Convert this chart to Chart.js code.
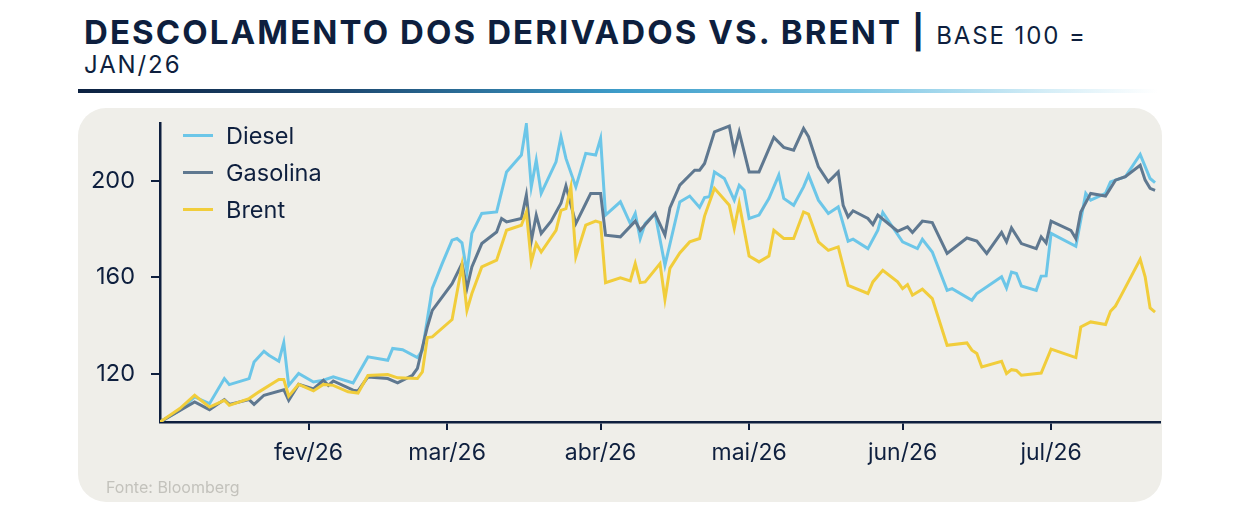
<!DOCTYPE html>
<html lang="pt-BR">
<head>
<meta charset="utf-8">
<script src="https://cdn.jsdelivr.net/npm/chart.js@4.4.1/dist/chart.umd.min.js"></script>
<style>
  body { margin: 0; background: #fff; width: 1240px; height: 507px; position: relative; overflow: hidden; font-family: Inter, "Noto Sans", sans-serif; color: #0e1f3e; }
  #titulo { position: absolute; left: 84px; top: 12px; white-space: nowrap; font-size: 33px; line-height: 40px; font-weight: 700; letter-spacing: 2.1px; }
  #titulo .sub { font-weight: 400; font-size: 24px; letter-spacing: 1.9px; }
  #titulo2 { position: absolute; left: 84px; top: 51px; font-size: 24px; line-height: 28px; font-weight: 400; letter-spacing: 1.9px; }
  #faixa { position: absolute; left: 78px; top: 89px; width: 1080px; height: 4px;
    background: linear-gradient(90deg, #0c2141 0%, #1d4a72 25%, #3d9cc9 50%, #7cc6e4 72%, #d6eef7 90%, rgba(255,255,255,0) 100%); }
  #painel { position: absolute; left: 78px; top: 108px; width: 1084px; height: 394px; background: #efeee9; border-radius: 28px; }
  #painel canvas { position: absolute; left: 0; top: 0; }
  #legenda { position: absolute; left: 105px; top: 9px; }
  #legenda .item { display: flex; align-items: center; height: 37px; font-size: 23.5px; color: #0e1f3e; }
  #legenda .linha { width: 30px; height: 3px; margin-right: 13px; }
  #fonte { position: absolute; left: 28px; top: 369px; font-size: 16px; color: #c3c2bc; }
</style>
</head>
<body>
<div id="titulo">DESCOLAMENTO DOS DERIVADOS VS. BRENT | <span class="sub">BASE 100 =</span></div>
<div id="titulo2">JAN/26</div>
<div id="faixa"></div>
<div id="painel">
  <canvas id="grafico" width="1084" height="394"></canvas>
  <div id="legenda"></div>
  <div id="fonte">Fonte: Bloomberg</div>
</div>
<script>
// eixo x em dias desde 1/jan/26
const mesesDia = [31, 59, 90, 120, 151, 181];
const mesesLabel = ["fev/26", "mar/26", "abr/26", "mai/26", "jun/26", "jul/26"];
const yTicks = [120, 160, 200];

const diasDiesel = [1,5,8,11,14,15,19,20,22,23,25,26,27,29,32,34,36,40,43,47,48,50,53,54,56,58,60,61,62,63,64,66,69,71,74,75,76,77,78,81,82,83,85,87,89,90,91,94,96,97,98,99,101,103,106,108,110,111,112,113,115,117,118,119,120,122,124,126,127,129,131,132,134,136,138,140,141,144,146,147,151,154,155,157,160,161,165,166,171,172,173,174,175,178,179,180,181,186,188,189,192,193,196,199,201,202];
const diesel = [100,104.9,110.4,107.6,118.0,115.5,118.0,124.9,129.3,127.7,125.2,132.9,115.2,120.1,116.6,117.3,118.7,116.2,127.0,125.6,130.5,130.0,126.7,129.7,155.4,165.7,175.4,176.1,174.3,162.2,178.2,186.5,187.1,203.7,210.7,223.4,197.5,208.6,194.8,207.9,218.3,209.3,197.5,211.4,210.7,217.6,185.8,191.3,182.3,186.5,176.1,182.3,186.5,165.0,191.3,193.7,189.0,193.1,193.4,203.7,201.0,192.0,198.2,196.1,184.4,185.8,192.7,202.4,192.7,189.9,197.5,202.4,192.0,186.5,189.2,175.0,175.8,171.9,179.5,186.9,174.7,171.9,175.8,170.5,154.6,155.3,150.5,153.3,160.2,155.6,162.2,161.6,156.4,154.6,160.5,160.6,178.2,172.9,194.8,192.0,194.8,199.6,201.7,211.0,201.0,199.3];

const diasGasolina = [1,8,11,14,15,19,20,22,26,27,29,32,34,35,36,40,41,43,47,49,52,53,55,56,60,62,63,64,66,69,70,71,74,75,76,77,78,80,82,83,85,87,88,90,91,94,97,98,101,103,104,106,109,110,111,113,116,117,118,120,122,125,127,129,131,132,134,136,138,139,140,141,144,145,146,150,152,153,155,157,160,164,166,168,171,172,173,175,178,179,180,181,185,186,187,189,192,194,196,199,200,201,202];
const gasolina = [100,108.3,105.1,109.3,107.3,109.3,107.3,111.1,113.4,109.0,115.6,113.7,117.3,115.2,117.0,113.2,112.9,118.7,118.0,116.2,119.4,122.2,139.4,146.3,157.4,165.7,155.4,164.3,174.0,178.8,184.4,183.0,184.4,194.1,175.0,185.8,178.2,183.3,190.7,197.9,182.3,190.6,194.8,194.8,177.5,176.8,183.3,179.5,186.5,177.5,188.8,198.2,204.4,204.4,207.2,220.3,222.7,212.0,220.3,203.7,203.7,218.0,213.9,212.7,221.7,218.3,205.8,199.6,203.7,189.9,185.1,187.6,184.4,181.9,185.8,179.1,180.9,178.6,183.3,182.7,169.9,176.3,175.0,169.9,178.6,174.7,180.5,174.0,171.9,176.8,174.3,183.3,179.5,176.1,187.1,194.8,193.7,200.3,201.7,206.5,200.3,196.9,196.1];

const diasBrent = [1,5,8,11,14,15,19,21,25,26,27,29,32,34,36,39,41,43,47,49,53,54,55,56,60,62,63,64,66,69,71,74,75,76,77,78,81,82,83,84,85,87,89,90,91,94,96,97,98,99,102,103,104,106,108,110,111,113,116,117,118,120,122,124,125,127,129,131,132,134,136,138,140,144,145,147,150,151,152,153,155,157,160,164,165,166,167,171,172,173,174,175,179,181,186,187,189,192,193,194,195,199,200,201,202];
const brent = [100,105.6,111.1,106.2,109.0,106.9,109.7,112.5,117.6,117.6,110.7,115.6,112.9,115.6,115.2,112.5,112.0,119.3,119.7,118.3,118.0,120.8,135.0,135.3,142.5,165.0,146.3,153.3,164.3,167.1,179.5,181.6,187.1,166.4,174.0,170.5,179.5,187.8,188.5,197.5,168.5,181.6,183.3,182.7,157.8,159.8,158.5,165.7,157.8,158.1,165.7,150.9,163.7,170.1,174.7,176.1,185.4,196.9,189.9,180.3,190.6,168.8,166.4,168.8,179.5,176.1,176.1,187.1,186.2,174.7,171.2,172.6,156.7,153.3,158.1,162.9,158.1,155.3,157.0,152.6,155.1,151.2,131.8,132.8,129.8,128.4,122.8,125.2,120.1,121.7,121.4,119.4,120.3,130.2,126.7,139.4,141.5,140.4,145.9,148.1,151.9,167.5,160.2,147.3,145.6];

const navy = "#0e1f3e";
const fonte = "Inter, 'Noto Sans', sans-serif";

function pontos(dias, vals) {
  return dias.map((d, i) => ({ x: d, y: vals[i] }));
}

const series = [
  { label: "Diesel", dias: diasDiesel, vals: diesel, cor: "#6cc6e8", ordem: 3 },
  { label: "Gasolina", dias: diasGasolina, vals: gasolina, cor: "#5f7890", ordem: 2 },
  { label: "Brent", dias: diasBrent, vals: brent, cor: "#f1cd3b", ordem: 1 },
];

const chart = new Chart(document.getElementById("grafico"), {
  type: "line",
  data: {
    datasets: series.map(s => ({
      label: s.label,
      data: pontos(s.dias, s.vals),
      borderColor: s.cor,
      backgroundColor: s.cor,
      borderWidth: 3,
      pointRadius: 0,
      tension: 0,
      order: s.ordem,
    })),
  },
  options: {
    responsive: false,
    animation: false,
    layout: { padding: { left: 0, right: 2, top: 15, bottom: 0 } },
    plugins: { legend: { display: false }, tooltip: { enabled: false } },
    scales: {
      x: {
        type: "linear",
        min: 1,
        max: 203,
        afterBuildTicks: axis => { axis.ticks = mesesDia.map(v => ({ value: v })); },
        afterFit: axis => { axis.height = 80; axis.paddingLeft = 0; axis.paddingRight = 0; },
        border: { display: true, color: navy, width: 2.5 },
        grid: { display: true, drawOnChartArea: false, drawTicks: true, tickLength: 8, color: navy, lineWidth: 2 },
        ticks: {
          autoSkip: false,
          maxRotation: 0,
          padding: 9,
          color: navy,
          font: { family: fonte, size: 23 },
          callback: v => mesesLabel[mesesDia.indexOf(v)],
        },
      },
      y: {
        min: 100,
        max: 224,
        afterBuildTicks: axis => { axis.ticks = yTicks.map(v => ({ value: v })); },
        // sem folga extra acima/abaixo: o topo do eixo fica no padding do layout
        afterFit: axis => { axis.width = 82; axis.paddingTop = 0; axis.paddingBottom = 0; },
        border: { display: true, color: navy, width: 2.5 },
        grid: { display: true, drawOnChartArea: false, drawTicks: true, tickLength: 9, color: navy, lineWidth: 2 },
        ticks: { padding: 16, color: navy, font: { family: fonte, size: 23.5 } },
      },
    },
  },
});

// legenda em HTML a partir dos datasets
const leg = document.getElementById("legenda");
chart.data.datasets.forEach(ds => {
  const item = document.createElement("div");
  item.className = "item";
  item.innerHTML = `<span class="linha" style="background:${ds.borderColor}"></span><span>${ds.label}</span>`;
  leg.appendChild(item);
});
</script>
</body>
</html>
